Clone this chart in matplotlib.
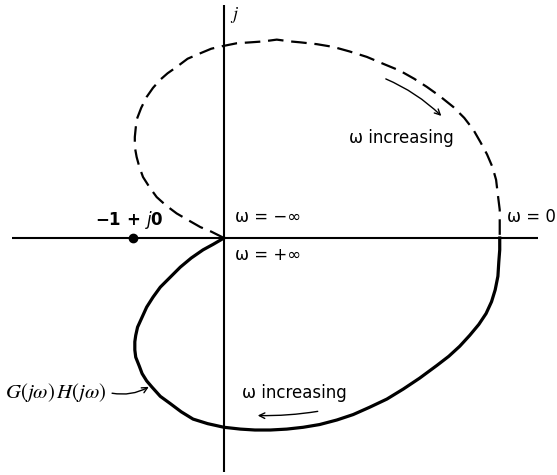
#Importing
import numpy as np
import matplotlib
matplotlib.use("Agg")
import matplotlib.pyplot as plt

PosReal = [3.03, 3.03, 3.02, 3.01, 2.98, 2.94, 2.88, 2.80, 2.70, 2.59, 2.47, 2.34, 2.15, 1.97,
           1.79, 1.60, 1.42, 1.24, 1.05, 0.87, 0.69, 0.51, 0.34, 0.18, 0.0, -0.18, -0.34, -0.47,
           -0.59, -0.70, -0.79, -0.85, -0.90, -0.93, -0.97, -0.98, -0.98, -0.97, -0.95, -0.90,
           -0.85, -0.78, -0.70, -0.59, -0.48, -0.36, -0.23, -0.12, 0.0]
PosImag = [0.0, -0.13, -0.26, -0.42, -0.57, -0.70, -0.83, -0.95, -1.07, -1.19, -1.30, -1.40, -1.54,
           -1.66, -1.77, -1.86, -1.94, -2.00, -2.05, -2.08, -2.10, -2.11, -2.11, -2.10, -2.08, -2.04,
           -1.99, -1.91, -1.82, -1.74, -1.64, -1.57, -1.49, -1.41, -1.31, -1.23, -1.14, -1.07, -0.98,
           -0.87, -0.76, -0.65, -0.54, -0.43, -0.32, -0.22, -0.13, -0.07, 0.0]

#Points for w from -inf to 0 (dashed part)
NegReal = [0.0, -0.14, -0.26, -0.40, -0.52, -0.64, -0.74, -0.82, -0.89, -0.93, -0.96, -0.98, -0.98,
           -0.97, -0.96, -0.91, -0.85, -0.78, -0.70, -0.62, -0.52, -0.40, -0.26, -0.14, -0.01, 0.14,
           0.29, 0.43, 0.58, 0.73, 0.84, 1.02, 1.20, 1.38, 1.57, 1.76, 1.93, 2.09, 2.23, 2.37, 2.52,
           2.64, 2.74, 2.82, 2.89, 2.95, 2.99, 3.01, 3.03, 3.03, 3.03]
NegImag = [0.0, 0.07, 0.12, 0.20, 0.27, 0.36, 0.45, 0.56, 0.67, 0.78, 0.89, 1.00, 1.11, 1.21, 1.30,
           1.43, 1.55, 1.65, 1.74, 1.81, 1.88, 1.97, 2.03, 2.08, 2.11, 2.14, 2.15, 2.16, 2.18, 2.16,
           2.15, 2.13, 2.10, 2.05, 1.99, 1.91, 1.84, 1.75, 1.66, 1.56, 1.44, 1.32, 1.19, 1.05, 0.92,
           0.78, 0.64, 0.47, 0.31, 0.15, 0.0]

#Critical point
CritPoint = (-1.0, 0.0)

#Figure set up, 1 unit = 91 pixels, origin at pixel (224,238)
fig = plt.figure(figsize=(5.57, 4.75), dpi=100)
ax = fig.add_axes([0, 0, 1, 1])
ax.set_xlim(-224/91, 333/91)
ax.set_ylim(-237/91, 238/91)
ax.axis("off")

#Real and imaginary axes
ax.plot([-2.33, 3.45], [0, 0], color="black", lw=1.5, solid_capstyle="butt")
ax.plot([0, 0], [-2.57, 2.56], color="black", lw=1.5, solid_capstyle="butt")

#Nyquist curve
ax.plot(PosReal, PosImag, color="black", lw=2.3, solid_joinstyle="round")
ax.plot(NegReal, NegImag, color="black", lw=1.6, dashes=(7, 3.5))
ax.plot(CritPoint[0], CritPoint[1], "o", color="black", markersize=6)

#Labels
FS = 12
ax.text(0.07, 2.45, "$j$", fontsize=13, math_fontfamily="stix", ha="left", va="center")
ax.text(-1.42, 0.2, "\u22121 + $\\mathit{j}$0", fontsize=FS, fontweight="bold", ha="left", va="center")
ax.text(0.12, 0.23, "ω = \u2212∞", fontsize=FS, ha="left", va="center")
ax.text(0.12, -0.19, "ω = +∞", fontsize=FS, ha="left", va="center")
ax.text(3.11, 0.23, "ω = 0", fontsize=FS, ha="left", va="center")
ax.text(1.37, 1.1, "ω increasing", fontsize=FS, ha="left", va="center")
ax.text(0.2, -1.7, "ω increasing", fontsize=FS, ha="left", va="center")
ax.text(-2.41, -1.7, r"$G(j\omega)\,H(j\omega)$", fontsize=15, math_fontfamily="stix",
        ha="left", va="center")

#Arrows
ax.annotate("", xy=(2.41, 1.32), xytext=(1.75, 1.76),
            arrowprops=dict(arrowstyle="->", color="black", lw=1.0, connectionstyle="arc3,rad=-0.1"))
ax.annotate("", xy=(0.34, -1.95), xytext=(1.06, -1.90),
            arrowprops=dict(arrowstyle="->", color="black", lw=1.0, connectionstyle="arc3,rad=-0.05"))
ax.annotate("", xy=(-0.8, -1.62), xytext=(-1.26, -1.70),
            arrowprops=dict(arrowstyle="->", color="black", lw=1.0, connectionstyle="arc3,rad=0.2"))

#Save the graph
plt.savefig("out.png", dpi=100)
